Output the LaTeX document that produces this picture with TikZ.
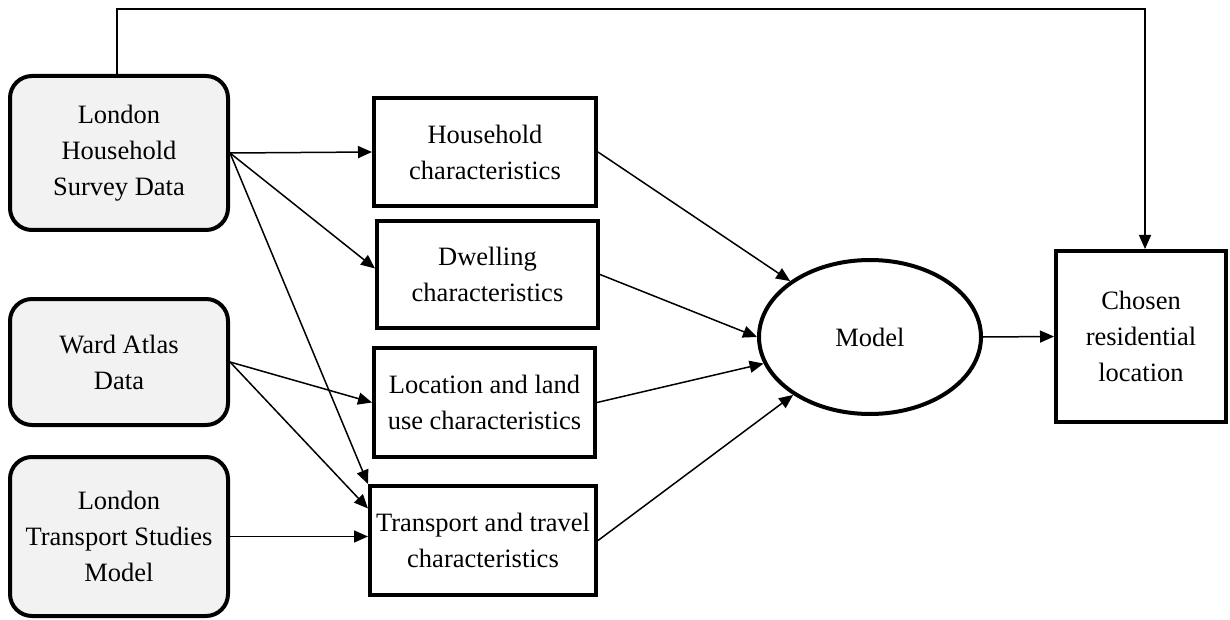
\documentclass[tikz,border=0pt]{standalone}
\usepackage{fontspec}
\setmainfont{Liberation Serif}
\usetikzlibrary{arrows.meta,shapes.geometric,calc}
\definecolor{srcgray}{HTML}{F2F2F2}
\begin{document}
\begin{tikzpicture}[x=1pt,y=-1pt,
  every node/.style={font=\fontsize{26.5}{36}\selectfont, align=center, inner sep=0pt},
  src/.style={draw, line width=4pt, rounded corners=22pt, fill=srcgray},
  box/.style={draw, line width=4pt, fill=white},
  oval/.style={draw, ellipse, line width=4pt, fill=white},
  conn/.style={line width=1.5pt, -{Triangle[length=14pt,width=12pt]}}]
\useasboundingbox (0,0) rectangle (1230,620);

\node[src, minimum width=218pt, minimum height=154pt] (lhs) at (119,153) {London\\Household\\Survey Data};
\node[src, minimum width=218pt, minimum height=126pt] (ward) at (119,362) {Ward Atlas\\Data};
\node[src, minimum width=218pt, minimum height=159pt] (lts) at (119,536.5) {London\\Transport Studies\\Model};

\node[box, minimum width=222pt, minimum height=108pt] (hh) at (485,152) {Household\\characteristics};
\node[box, minimum width=221pt, minimum height=107pt] (dw) at (487.5,274.5) {Dwelling\\characteristics};
\node[box, minimum width=221pt, minimum height=109pt] (loc) at (484.5,402.5) {Location and land\\use characteristics};
\node[box, minimum width=226pt, minimum height=109pt] (tr) at (483,540.5) {Transport and travel\\characteristics};

\node[oval, minimum width=222pt, minimum height=154pt] (md) at (870,337) {Model};
\node[box, minimum width=170pt, minimum height=171pt] (ch) at (1141,336.5) {Chosen\\residential\\location};

\draw[conn] (lhs.east) -- (hh.west);
\draw[conn] (lhs.east) -- ($(dw.west)+(0,-6)$);
\draw[conn] (lhs.east) -- (tr.north west);
\draw[conn] (ward.east) -- (loc.west);
\draw[conn] (ward.east) -- ($(tr.west)+(0,-32)$);
\draw[conn] (lts.east) -- (lts.east -| tr.west);
\draw[conn] (hh.east) -- (md.145);
\draw[conn] (dw.east) -- (md.west);
\draw[conn] (loc.east) -- (md.194);
\draw[conn] (tr.east) -- (md.217);
\draw[conn] (md.east) -- (ch.west);

\coordinate (tl) at (117,9);
\coordinate (tp) at (1145,9);
\draw[conn] (lhs.north -| tl) -- (tl) -- (tp) -- (tp |- ch.north);
\end{tikzpicture}
\end{document}
